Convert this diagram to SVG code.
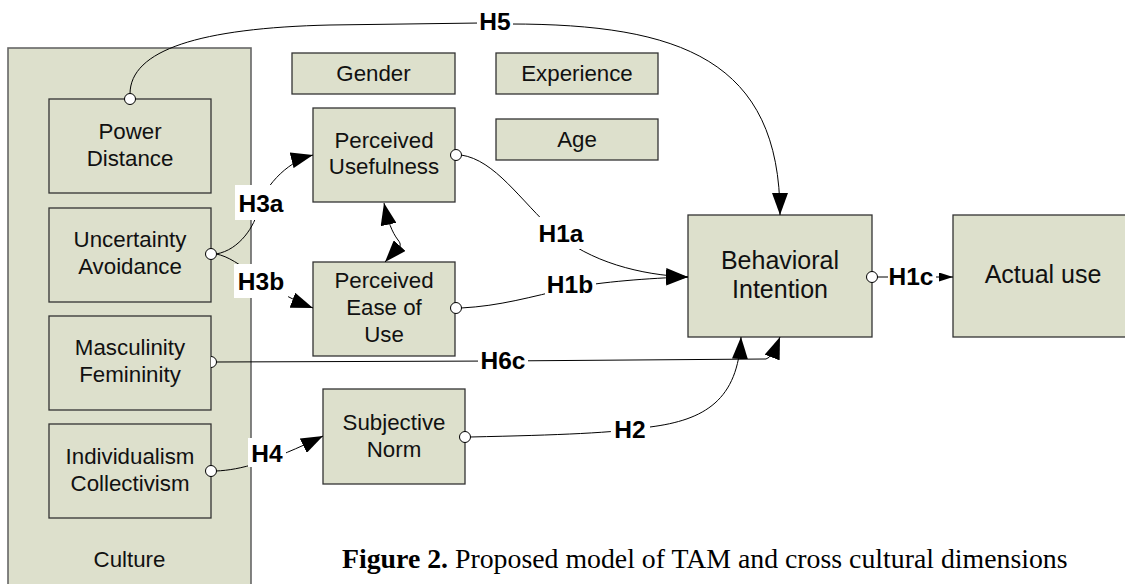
<svg xmlns="http://www.w3.org/2000/svg" width="1125" height="584" viewBox="0 0 1125 584">
<style>
.box{fill:#DDE0CC;stroke:#333;stroke-width:1.3}
.outer{fill:#DDE0CC;stroke:#666;stroke-width:1.6}
.t{font-family:"Liberation Sans",Arial,sans-serif;font-size:22.3px;fill:#111;text-anchor:middle}
.tb{font-family:"Liberation Sans",Arial,sans-serif;font-size:25px;fill:#111;text-anchor:middle}
.lab{font-family:"Liberation Sans",Arial,sans-serif;font-size:24.5px;font-weight:bold;fill:#000;text-anchor:middle}
.lbg{fill:#fff;stroke:none}
.c{fill:none;stroke:#000;stroke-width:1}
.a{fill:none;stroke:#000;stroke-width:1;marker-end:url(#ah)}
.dot{fill:#fff;stroke:#000;stroke-width:1}
</style>
<defs>
<marker id="ah" markerUnits="userSpaceOnUse" markerWidth="23" markerHeight="16" refX="22" refY="8" orient="auto">
<path d="M0,0 L22,8 L0,16 z" fill="#000"/>
</marker>
<marker id="ah2" markerUnits="userSpaceOnUse" markerWidth="23" markerHeight="16" refX="22" refY="8" orient="auto-start-reverse">
<path d="M0,0 L22,8 L0,16 z" fill="#000"/>
</marker>
<marker id="sm" markerUnits="userSpaceOnUse" markerWidth="14" markerHeight="9" refX="14" refY="4.5" orient="auto">
<path d="M0,0 L14,4.5 L0,9 z" fill="#000"/>
</marker>
</defs>
<rect width="1125" height="584" fill="#fff"/>

<g id="culture">
<rect class="outer" x="8" y="48" width="243" height="560"/>
<text class="t" x="129.5" y="567">Culture</text>
</g>
<g id="power-distance">
<rect class="box" x="49" y="99" width="162" height="94"/>
<text class="t" x="130" y="139">Power</text>
<text class="t" x="130" y="166">Distance</text>
</g>
<g id="uncertainty-avoidance">
<rect class="box" x="49" y="208" width="162" height="94"/>
<text class="t" x="130" y="247">Uncertainty</text>
<text class="t" x="130" y="274">Avoidance</text>
</g>
<g id="masculinity-femininity">
<rect class="box" x="49" y="316" width="162" height="94"/>
<text class="t" x="130" y="355">Masculinity</text>
<text class="t" x="130" y="382">Femininity</text>
</g>
<g id="individualism-collectivism">
<rect class="box" x="49" y="424" width="162" height="94"/>
<text class="t" x="130" y="464">Individualism</text>
<text class="t" x="130" y="491">Collectivism</text>
</g>
<g id="gender">
<rect class="box" x="292" y="53" width="163" height="41"/>
<text class="t" x="373.5" y="80.5">Gender</text>
</g>
<g id="experience">
<rect class="box" x="496" y="53" width="162" height="41"/>
<text class="t" x="577" y="80.5">Experience</text>
</g>
<g id="age">
<rect class="box" x="496" y="119" width="162" height="41"/>
<text class="t" x="577" y="147">Age</text>
</g>
<g id="perceived-usefulness">
<rect class="box" x="313" y="108" width="142" height="94"/>
<text class="t" x="384" y="148">Perceived</text>
<text class="t" x="384" y="174">Usefulness</text>
</g>
<g id="perceived-ease-of-use">
<rect class="box" x="313" y="262" width="142" height="94"/>
<text class="t" x="384" y="288">Perceived</text>
<text class="t" x="384" y="315">Ease of</text>
<text class="t" x="384" y="342">Use</text>
</g>
<g id="subjective-norm">
<rect class="box" x="323" y="389" width="142" height="95"/>
<text class="t" x="394" y="430">Subjective</text>
<text class="t" x="394" y="457">Norm</text>
</g>
<g id="behavioral-intention">
<rect class="box" x="688" y="215" width="184" height="122"/>
<text class="tb" x="780" y="269">Behavioral</text>
<text class="tb" x="780" y="298">Intention</text>
</g>
<g id="actual-use">
<rect class="box" x="953" y="215" width="190" height="122"/>
<text class="tb" x="1043" y="283">Actual use</text>
</g>

<g id="connectors">
<path class="a" d="M130,94 C130,50 200,28 330,25 L480,23 M510,24 C680,24 780,60 780,215"/>
<path class="a" d="M216,254 C240,250 255,225 258,210 C262,190 285,162 313,155"/>
<path class="a" d="M216,254 C240,258 265,290 313,308"/>
<path class="a" d="M461,155 C495,160 520,200 555,232 C590,262 640,275 688,277"/>
<path class="a" d="M461,308 C500,306 530,297 570,288 C600,282 650,278 688,277"/>
<path class="c" d="M384,203 C388,222 392,232 398,240 C405,248 394,252 385,262" marker-start="url(#ah2)" marker-end="url(#ah2)"/>
<path class="a" d="M216,362 L500,361 L766,359 Q772,358 780,337"/>
<path class="a" d="M470,437 C560,435 615,433 650,427 C705,420 738,400 741,337"/>
<path class="a" d="M216,471 C240,470 270,462 323,436"/>
<path class="c" d="M877,277 L888,277"/>
<path class="c" d="M936,277 L953,277" marker-end="url(#sm)"/>
<circle class="dot" cx="130" cy="99" r="5.5"/>
<circle class="dot" cx="211" cy="254" r="5.5"/>
<path class="dot" d="M211,356.5 A5.5,5.5 0 0 1 211,367.5"/>
<circle class="dot" cx="211" cy="471" r="5.5"/>
<circle class="dot" cx="456" cy="155" r="5.5"/>
<circle class="dot" cx="456" cy="308" r="5.5"/>
<circle class="dot" cx="465" cy="437" r="5.5"/>
<circle class="dot" cx="872" cy="277" r="5.5"/>
<rect class="lbg" x="477" y="9" width="36" height="25"/>
<text class="lab" x="495" y="30">H5</text>
<rect class="lbg" x="235" y="185" width="52" height="35"/>
<text class="lab" x="261" y="212">H3a</text>
<rect class="lbg" x="234" y="264" width="54" height="34"/>
<text class="lab" x="261" y="290">H3b</text>
<rect class="lbg" x="536" y="217" width="51" height="32"/>
<text class="lab" x="561" y="242">H1a</text>
<rect class="lbg" x="545" y="268" width="51" height="31"/>
<text class="lab" x="570" y="293">H1b</text>
<rect class="lbg" x="478" y="345" width="50" height="30"/>
<text class="lab" x="503" y="369">H6c</text>
<rect class="lbg" x="248" y="438" width="38" height="29"/>
<text class="lab" x="267" y="462">H4</text>
<rect class="lbg" x="611" y="414" width="39" height="30"/>
<text class="lab" x="630" y="438">H2</text>
<text class="lab" x="911" y="285">H1c</text>
</g>

<g id="caption">
<text x="342" y="568" font-family="'Liberation Serif','Times New Roman',serif" font-size="27.8" fill="#000"><tspan font-weight="bold">Figure 2.</tspan> Proposed model of TAM and cross cultural dimensions</text>
</g>
</svg>
